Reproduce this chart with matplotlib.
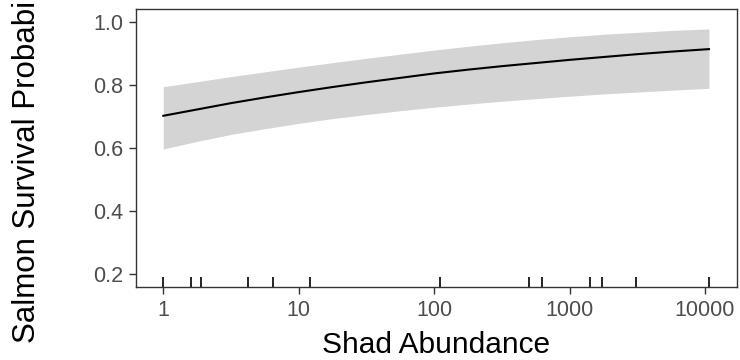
import matplotlib
matplotlib.use("Agg")
import matplotlib.pyplot as plt
import matplotlib.transforms as mtransforms
from matplotlib.ticker import FixedLocator, NullLocator

plt.rcParams['font.family'] = ['Liberation Sans', 'DejaVu Sans']

# Data
shad = [1, 1.78, 3.16, 5.62, 10, 17.8, 31.6, 56.2, 100, 178, 316, 562,
        1000, 1780, 3160, 5620, 10700]
survival = [0.702, 0.722, 0.742, 0.760, 0.777, 0.793, 0.808, 0.822, 0.836,
            0.848, 0.859, 0.869, 0.879, 0.888, 0.897, 0.905, 0.913]
upper = [0.794, 0.810, 0.826, 0.841, 0.856, 0.870, 0.884, 0.897, 0.910,
         0.922, 0.933, 0.943, 0.952, 0.960, 0.966, 0.972, 0.977]
lower = [0.597, 0.621, 0.643, 0.661, 0.678, 0.693, 0.706, 0.718, 0.729,
         0.739, 0.748, 0.756, 0.764, 0.771, 0.777, 0.783, 0.789]
rug_x = [1, 1.6, 1.9, 4.2, 6.5, 12.2, 111, 500, 630, 1410, 1740, 3080, 10700]
xticks = [1, 10, 100, 1000, 10000]
xticklabels = ["1", "10", "100", "1000", "10000"]
yticks = [0.2, 0.4, 0.6, 0.8, 1.0]
yticklabels = ["0.2", "0.4", "0.6", "0.8", "1.0"]

fig = plt.figure(figsize=(7.4, 3.6), dpi=100)
W, H = 740, 360
left, right, top, bottom = 136, 737, 9, 287
ax = fig.add_axes([left / W, (H - bottom) / H, (right - left) / W, (bottom - top) / H])

ax.fill_between(shad, lower, upper, color='#d4d4d4', linewidth=0)
ax.plot(shad, survival, color='black', lw=1.5)

trans = mtransforms.blended_transform_factory(ax.transData, ax.transAxes)
for xv in rug_x:
    ax.plot([xv, xv], [0, 0.035], transform=trans, color='black', lw=1.2, solid_capstyle='butt')

ax.set_xscale('log')
ax.set_xlim(10 ** -0.2015, 10 ** 4.2365)
ax.set_ylim(0.16, 1.04)
ax.xaxis.set_major_locator(FixedLocator(xticks))
ax.xaxis.set_minor_locator(NullLocator())
ax.set_xticklabels(xticklabels)
ax.set_yticks(yticks)
ax.set_yticklabels(yticklabels)

for s in ax.spines.values():
    s.set_color('#333333')
    s.set_linewidth(1.0)
ax.tick_params(axis='both', direction='out', length=5, width=1.0, color='#333333',
               labelsize=15.5, labelcolor='#4d4d4d', pad=4)

fig.text((left + right) / 2 / W, 1 - 345 / H, "Shad Abundance", ha='center', va='center',
         fontsize=21.5, color='black')
fig.text(27 / W, 1 - 153 / H, "Salmon Survival Probability", ha='center',
         va='center', rotation=90, fontsize=22.5, color='black')

fig.savefig("out.png", dpi=100)
